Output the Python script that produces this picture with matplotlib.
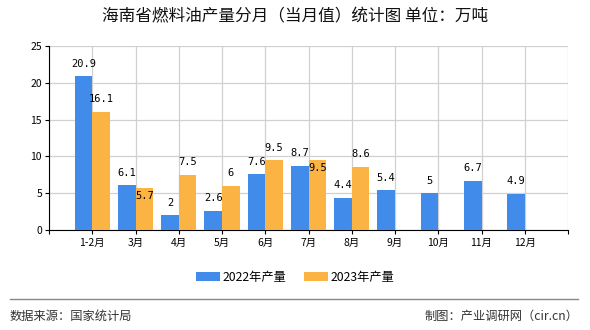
import numpy as np
import matplotlib.pyplot as plt

plt.rcParams['font.family'] = ['Noto Sans CJK SC', 'DejaVu Sans']

months = ['1-2月', '3月', '4月', '5月', '6月', '7月', '8月', '9月', '10月', '11月', '12月']
y2022 = [20.9, 6.1, 2, 2.6, 7.6, 8.7, 4.4, 5.4, 5, 6.7, 4.9]
y2023 = [16.1, 5.7, 7.5, 6, 9.5, 9.5, 8.6]
# labels that the original chart pushes below the bar top to avoid overlap
shifted_2023 = {1, 5}

c22 = '#418BEB'
c23 = '#FBB444'

fig = plt.figure(figsize=(5.9, 3.3), dpi=100)
ax = fig.add_axes([49/590, 1-230/330, (568-49)/590, (230-46)/330])

x = np.arange(1, len(months) + 1)
w = 0.41
ax.bar(x[:len(y2022)] - w/2, y2022, w, color=c22, label='2022年产量', zorder=3)
ax.bar(x[:len(y2023)] + w/2, y2023, w, color=c23, label='2023年产量', zorder=3)

mono = ['DejaVu Sans Mono', 'Noto Sans CJK SC']

for xi, v in zip(x, y2022):
    ax.annotate('%g' % v, (xi - w/2, v), xytext=(0, 9), textcoords='offset points',
                ha='center', va='center', fontsize=7.5, family=mono, zorder=4)
for i, (xi, v) in enumerate(zip(x, y2023)):
    off = -6 if i in shifted_2023 else 9
    ax.annotate('%g' % v, (xi + w/2, v), xytext=(0, off), textcoords='offset points',
                ha='center', va='center', fontsize=7.5, family=mono, zorder=4)

ax.set_xlim(0, 12)
ax.set_ylim(0, 25)
ax.set_xticks(np.arange(0, 13))
ax.set_xticklabels([''] + months + [''])
ax.set_yticks([0, 5, 10, 15, 20, 25])
ax.tick_params(axis='both', labelsize=7.5, length=3, color='black', pad=2)
ax.tick_params(axis='x', direction='out', pad=3)
ax.grid(True, color='#D0D0D0', linewidth=0.9, zorder=0)
for s in ['top', 'right']:
    ax.spines[s].set_visible(False)

fig.text(0.5, 1 - 17/330, '海南省燃料油产量分月（当月值）统计图 单位：万吨',
         ha='center', va='center', fontsize=12, color='#111111')

fig.legend(loc='center', bbox_to_anchor=(0.5, 1 - 277/330), ncol=2, frameon=False,
           fontsize=8.8, handlelength=2.0, handleheight=0.8, columnspacing=1.4,
           handletextpad=0.2)

fig.add_artist(plt.Line2D([10/590, 578/590], [1 - 299/330, 1 - 299/330],
                          color='#888888', linewidth=1))
fig.text(10/590, 1 - 316/330, '数据来源：国家统计局', ha='left', va='center',
         fontsize=8.8, color='#333333')
fig.text(578/590, 1 - 316/330, '制图：产业调研网（cir.cn）', ha='right', va='center',
         fontsize=8.8, color='#333333')

fig.savefig('out.png', dpi=100)
